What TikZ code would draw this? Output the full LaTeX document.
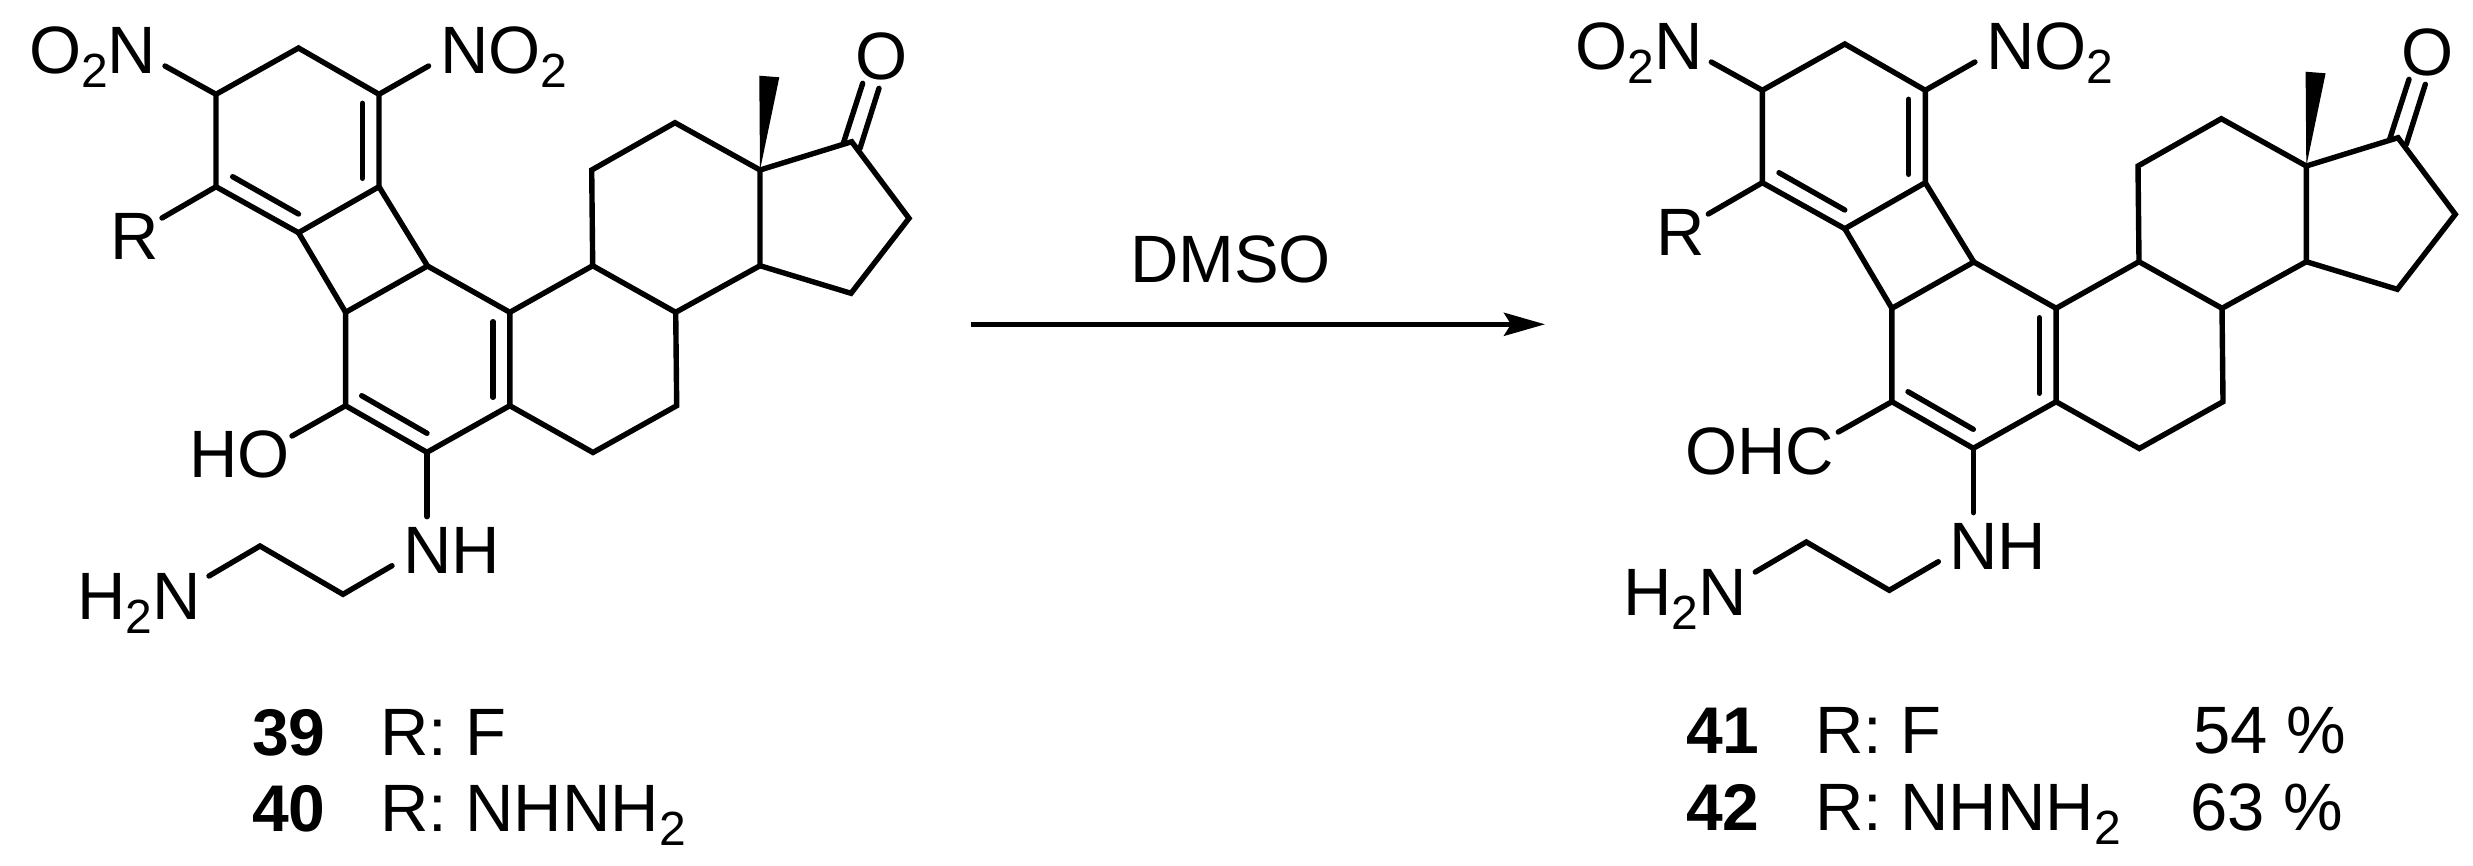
\documentclass[tikz,border=0pt]{standalone}
\usepackage{fontspec}
\setmainfont{Liberation Sans}
\usetikzlibrary{arrows.meta}
\newcommand{\subtwo}{\raisebox{-14pt}{\fontsize{48}{52}\selectfont 2}}
\tikzset{
  bond/.style={line width=5.4pt,line cap=round,line join=miter,miter limit=4},
  chem/.style={inner sep=0pt,outer sep=0pt,anchor=base west,font=\fontsize{67}{72}\selectfont},
  cmpd/.style={chem,font=\fontsize{66}{72}\selectfont\bfseries},
  wedgebond/.style={fill=black,draw=none},
  rxn/.style={line width=5pt,-{Stealth[length=41pt,width=23pt,inset=7pt]}}
}
\newcommand{\molecule}{%
  % upper ring
  \coordinate (a1) at (298.5,48);
  \coordinate (a2) at (379,94.3);
  \coordinate (a3) at (379,186.7);
  \coordinate (a4) at (298.5,232.7);
  \coordinate (a5) at (216,186.7);
  \coordinate (a6) at (216,94.3);
  % four-membered ring
  \coordinate (b1) at (427.5,266);
  \coordinate (b2) at (345.6,312.3);
  % central aromatic ring
  \coordinate (c1) at (509.8,312.3);
  \coordinate (c2) at (509.8,405.7);
  \coordinate (c3) at (427,452.3);
  \coordinate (c4) at (345.6,405.7);
  % ring C
  \coordinate (d1) at (592.7,265.7);
  \coordinate (d2) at (675.7,312.3);
  \coordinate (d3) at (676.7,405.7);
  \coordinate (d4) at (593,452.5);
  % ring D
  \coordinate (e1) at (591.7,170);
  \coordinate (e2) at (675,122.7);
  \coordinate (e3) at (760,170);
  \coordinate (e4) at (760,265.7);
  % cyclopentanone
  \coordinate (f1) at (851.7,141.7);
  \coordinate (f2) at (909,218.3);
  \coordinate (f3) at (851,293.3);
  % wedge
  \coordinate (w1) at (759.3,75.7);
  \coordinate (w2) at (779.3,77.3);
  % free bond ends
  \coordinate (n1) at (165,66);
  \coordinate (n2) at (428.6,66);
  \coordinate (rb) at (162,218);
  \coordinate (nb) at (427,516.7);
  \coordinate (g1) at (392,565.7);
  \coordinate (g2) at (343,594.3);
  \coordinate (g3) at (260,546);
  \coordinate (g4) at (209,576);
  % inner double-bond lines
  \coordinate (i1) at (362.4,103.3);
  \coordinate (i2) at (362.4,178.3);
  \coordinate (i3) at (232.7,176.7);
  \coordinate (i4) at (298.5,214);
  \coordinate (i5) at (493,321.7);
  \coordinate (i6) at (493,397.3);
  \coordinate (i7) at (361.7,395.7);
  \coordinate (i8) at (427,433.3);
  \coordinate (o1a) at (843.3,143.3);
  \coordinate (o1b) at (862.7,83.3);
  \coordinate (o2a) at (860,148.3);
  \coordinate (o2b) at (879,88.3);
  % bonds
  \draw[bond] (n1) -- (a6) -- (a1) -- (a2) -- (n2);
  \draw[bond] (a6) -- (a5) -- (a4) -- (a3) -- (a2);
  \draw[bond] (rb) -- (a5);
  \draw[bond] (a3) -- (b1) -- (b2) -- (a4);
  \draw[bond] (b1) -- (c1) -- (c2) -- (c3) -- (c4) -- (b2);
  \draw[bond] (c3) -- (nb);
  \draw[bond] (c1) -- (d1) -- (d2) -- (d3) -- (d4) -- (c2);
  \draw[bond] (d1) -- (e1) -- (e2) -- (e3) -- (e4) -- (d2);
  \draw[bond] (e3) -- (f1) -- (f2) -- (f3) -- (e4);
  \draw[bond] (g1) -- (g2) -- (g3) -- (g4);
  \draw[bond] (i1) -- (i2);
  \draw[bond] (i3) -- (i4);
  \draw[bond] (i5) -- (i6);
  \draw[bond] (i7) -- (i8);
  \draw[bond] (o1a) -- (o1b);
  \draw[bond] (o2a) -- (o2b);
  \fill[wedgebond] (e3) -- (w1) -- (w2) -- cycle;
  % atom labels
  \node[chem] (lo2n) at (29,73.3) {O\subtwo N};
  \node[chem] (lno2) at (440,73.3) {NO\subtwo};
  \node[chem] (lr) at (110,259) {R};
  \node[chem] (lo) at (855,79) {O};
  \node[chem] (lnh) at (403,573) {NH};
  \node[chem] (lh2n) at (77,619) {H\subtwo N};
}
\begin{document}
\begin{tikzpicture}[x=1pt,y=-1pt]
\useasboundingbox (0,0) rectangle (2473,865);
% left compound
\begin{scope}[name prefix=L-]
  \molecule
  \coordinate (ho) at (292,436);
  \draw[bond] (ho) -- (c4);
  \node[chem] (lho) at (189,477) {HO};
\end{scope}
% right compound
\begin{scope}[shift={(1546.3,-4)},name prefix=R-]
  \molecule
  \coordinate (cho) at (292,436);
  \draw[bond] (cho) -- (c4);
  \node[chem] (lohc) at (139,478) {OHC};
\end{scope}
% reaction arrow
\coordinate (arrL) at (970.6,324.3);
\coordinate (arrR) at (1545,324.3);
\draw[rxn] (arrL) -- (arrR);
\node[chem] (dmso) at (1130,282) {DMSO};
% compound tables
\node[cmpd] (n39) at (252,755) {39};
\node[chem] (r39) at (380,755) {R: F};
\node[cmpd] (n40) at (252,831.7) {40};
\node[chem] (r40) at (380,831.7) {R: NHNH\subtwo};
\node[cmpd] (n41) at (1686,753) {41};
\node[chem] (r41) at (1815,753) {R: F};
\node[chem] (y41) at (2193,753) {54 \%};
\node[cmpd] (n42) at (1686,830) {42};
\node[chem] (r42) at (1815,830) {R: NHNH\subtwo};
\node[chem] (y42) at (2190,830) {63 \%};
\end{tikzpicture}
\end{document}
